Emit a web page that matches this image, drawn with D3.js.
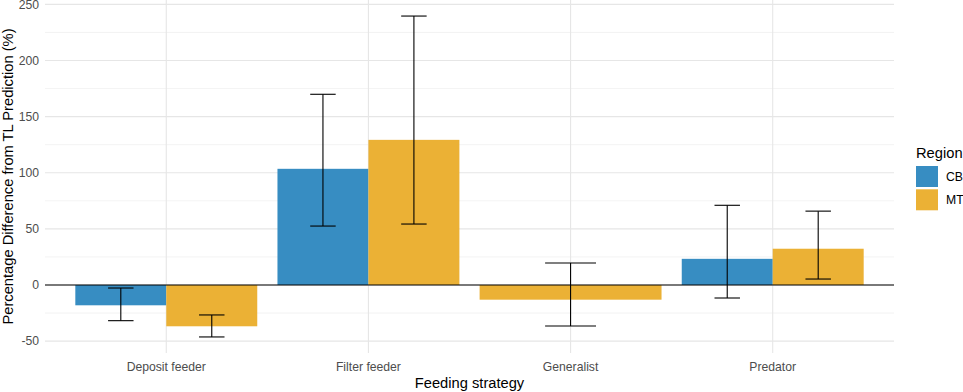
<!DOCTYPE html>
<html>
<head>
<meta charset="utf-8">
<script src="https://cdn.jsdelivr.net/npm/d3@7"></script>
<style>
  body { margin: 0; background: #fff; }
  text { font-family: "Liberation Sans", Arial, sans-serif; }
</style>
</head>
<body>
<div class="chart"></div>
<script>
const categories = ["Deposit feeder", "Filter feeder", "Generalist", "Predator"];
const regions = ["CB", "MT"];
const cbMean = [-18.1, 103.5, null, 23.3];
const cbLow = [-31.8, 52.5, null, -11.6];
const cbHigh = [-2.7, 169.9, null, 71];
const mtMean = [-36.8, 129.3, -13.1, 32.3];
const mtLow = [-46.3, 54.3, -36.5, 5.3];
const mtHigh = [-26.7, 239.6, 19.6, 65.8];
const yTicks = [-50, 0, 50, 100, 150, 200, 250];
const yMinor = [-25, 25, 75, 125, 175, 225];
const colors = ["#378dc2", "#ebb135"];

const width = 963;
const height = 392;
const panel = { left: 45, right: 894, top: 0, bottom: 353 };

const svg = d3
  .select(".chart")
  .append("svg")
  .attr("width", width)
  .attr("height", height);

const x = d3
  .scalePoint()
  .domain(categories)
  .range([panel.left, panel.right])
  .padding(0.6);

const y = d3
  .scaleLinear()
  .domain([-60.6, 253.9])
  .range([panel.bottom, panel.top]);

const color = d3.scaleOrdinal().domain(regions).range(colors);

// build rows: one per category/region that has data
let rows = [];
categories.forEach((cat, i) => {
  let present = [];
  if (cbMean[i] != null) present.push({ region: "CB", mean: cbMean[i], low: cbLow[i], high: cbHigh[i] });
  if (mtMean[i] != null) present.push({ region: "MT", mean: mtMean[i], low: mtLow[i], high: mtHigh[i] });
  let total = x.step() * 0.9;
  let w = total / present.length;
  present.forEach((p, j) => {
    rows.push({
      cat: cat,
      ...p,
      x0: x(cat) - total / 2 + j * w,
      w: w,
    });
  });
});

// grid
const grid = svg.append("g");
grid
  .selectAll(".minor")
  .data(yMinor)
  .enter()
  .append("line")
  .attr("x1", panel.left)
  .attr("x2", panel.right)
  .attr("y1", (d) => y(d))
  .attr("y2", (d) => y(d))
  .attr("stroke", "#ebebeb")
  .attr("stroke-width", 0.6);

grid
  .selectAll(".major")
  .data(yTicks)
  .enter()
  .append("line")
  .attr("x1", panel.left)
  .attr("x2", panel.right)
  .attr("y1", (d) => y(d))
  .attr("y2", (d) => y(d))
  .attr("stroke", "#e6e6e6")
  .attr("stroke-width", 1.1);

grid
  .selectAll(".vmajor")
  .data(categories)
  .enter()
  .append("line")
  .attr("x1", (d) => x(d))
  .attr("x2", (d) => x(d))
  .attr("y1", panel.top)
  .attr("y2", panel.bottom)
  .attr("stroke", "#e6e6e6")
  .attr("stroke-width", 1.1);

// bars
svg
  .append("g")
  .selectAll("rect")
  .data(rows)
  .enter()
  .append("rect")
  .attr("x", (d) => d.x0)
  .attr("width", (d) => d.w)
  .attr("y", (d) => Math.min(y(d.mean), y(0)))
  .attr("height", (d) => Math.abs(y(d.mean) - y(0)))
  .attr("fill", (d) => color(d.region));

// zero line
svg
  .append("line")
  .attr("x1", panel.left)
  .attr("x2", panel.right)
  .attr("y1", y(0))
  .attr("y2", y(0))
  .attr("stroke", "#000")
  .attr("stroke-width", 1.1);

// error bars
const err = svg
  .append("g")
  .selectAll("g")
  .data(rows)
  .enter()
  .append("g")
  .attr("stroke", "#000")
  .attr("stroke-width", 1.1);

err
  .append("line")
  .attr("x1", (d) => d.x0 + d.w / 2)
  .attr("x2", (d) => d.x0 + d.w / 2)
  .attr("y1", (d) => y(d.low))
  .attr("y2", (d) => y(d.high));

["low", "high"].forEach((k) => {
  err
    .append("line")
    .attr("x1", (d) => d.x0 + d.w / 2 - d.w * 0.14)
    .attr("x2", (d) => d.x0 + d.w / 2 + d.w * 0.14)
    .attr("y1", (d) => y(d[k]))
    .attr("y2", (d) => y(d[k]));
});

// y axis labels
svg
  .append("g")
  .selectAll("text")
  .data(yTicks)
  .enter()
  .append("text")
  .attr("x", 39)
  .attr("y", (d) => y(d))
  .attr("dy", "0.35em")
  .attr("text-anchor", "end")
  .attr("fill", "#4d4d4d")
  .style("font-size", "12.2px")
  .text((d) => d);

// x axis labels
svg
  .append("g")
  .selectAll("text")
  .data(categories)
  .enter()
  .append("text")
  .attr("x", (d) => x(d))
  .attr("y", 371)
  .attr("text-anchor", "middle")
  .attr("fill", "#4d4d4d")
  .style("font-size", "12.2px")
  .text((d) => d);

// axis titles
svg
  .append("text")
  .attr("x", (panel.left + panel.right) / 2)
  .attr("y", 388)
  .attr("text-anchor", "middle")
  .style("font-size", "14.7px")
  .text("Feeding strategy");

svg
  .append("text")
  .attr("transform", `translate(13, ${(panel.top + panel.bottom) / 2}) rotate(-90)`)
  .attr("text-anchor", "middle")
  .style("font-size", "14.7px")
  .text("Percentage Difference from TL Prediction (%)");

// legend
const legend = svg.append("g").attr("transform", "translate(916, 0)");
legend
  .append("text")
  .attr("x", 0)
  .attr("y", 158)
  .style("font-size", "14.7px")
  .text("Region");

const keys = legend
  .selectAll(".key")
  .data(regions)
  .enter()
  .append("g")
  .attr("transform", (d, i) => `translate(0, ${166 + i * 23.3})`);

keys
  .append("rect")
  .attr("width", 22)
  .attr("height", 21)
  .attr("fill", (d) => color(d));

keys
  .append("text")
  .attr("x", 30)
  .attr("y", 10.5)
  .attr("dy", "0.35em")
  .style("font-size", "12.2px")
  .text((d) => d);
</script>
</body>
</html>
